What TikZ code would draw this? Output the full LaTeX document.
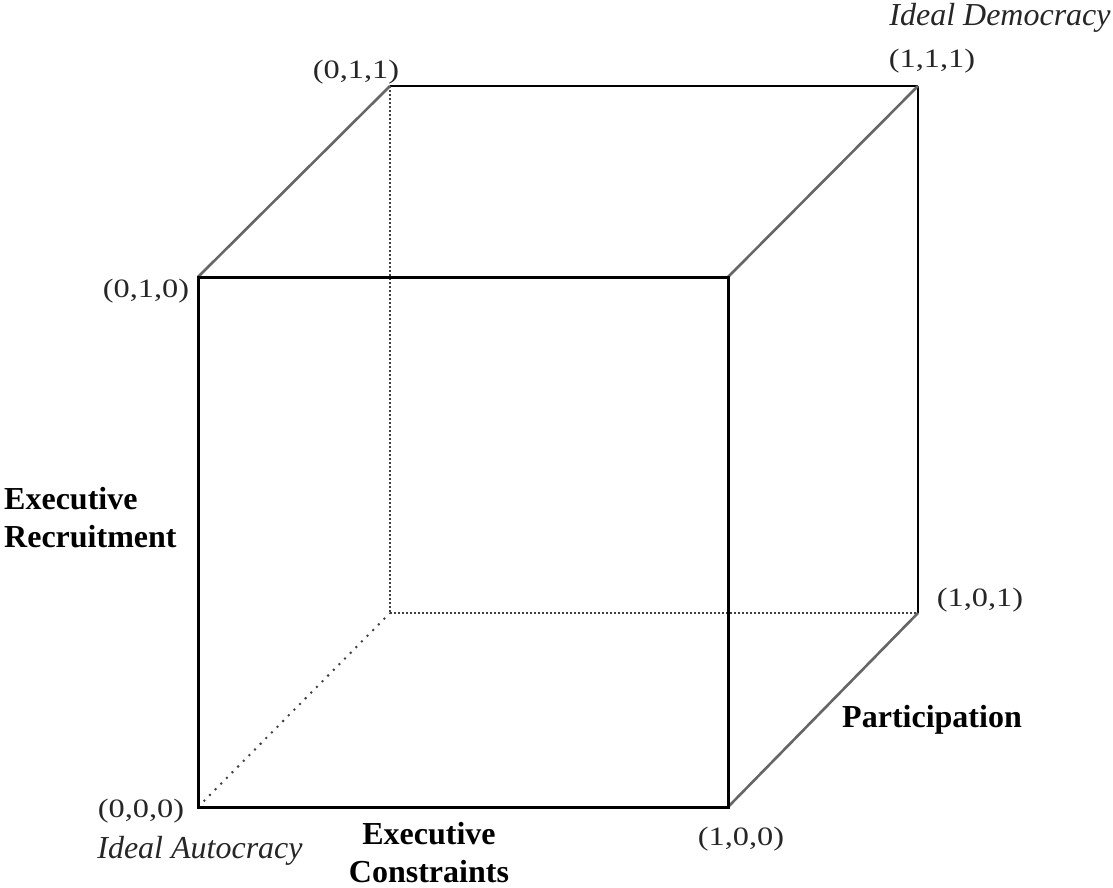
\documentclass[tikz,border=0pt]{standalone}
\usepackage{fontspec}
\setmainfont{Liberation Serif}
\newfontfamily\coordfont[FakeStretch=1.22]{Liberation Serif}
\begin{document}
\begin{tikzpicture}[x=1pt,y=-1pt,
  front/.style={line width=3pt,black},
  back/.style={line width=2.6pt,black},
  diag/.style={line width=2.6pt,black!60},
  hidden/.style={line width=2pt,black!75,dash pattern=on 2pt off 2pt},
  coordlbl/.style={inner sep=0pt,font=\coordfont\fontsize{26.5}{30}\selectfont,text=black!85},
  axislbl/.style={inner sep=0pt,font=\fontsize{32}{38}\selectfont\bfseries,text=black,align=center},
  ideallbl/.style={inner sep=0pt,font=\fontsize{32}{36}\selectfont\itshape,text=black!85}]
\useasboundingbox (0,0) rectangle (1113,888);
% cube corners
\coordinate (c000) at (198,807);
\coordinate (c100) at (728,807);
\coordinate (c010) at (198,277);
\coordinate (c110) at (728,277);
\coordinate (c001) at (390,613);
\coordinate (c101) at (918,613);
\coordinate (c011) at (390,86);
\coordinate (c111) at (918,86);
% hidden edges
\draw[hidden] (c011) -- (c001);
\draw[hidden] (c001) -- (c101);
\draw[hidden,dash pattern=on 2pt off 6pt] (c000) -- (c001);
% back edges
\draw[back] (c011) -- (c111);
\draw[back] (c111) -- (c101);
% diagonals
\draw[diag] (c010) -- (c011);
\draw[diag] (c110) -- (c111);
\draw[diag] (c100) -- (c101);
% front face
\draw[front,line join=miter] (c010) -- (c110) -- (c100) -- (c000) -- cycle;
% labels
\node[coordlbl] (l011) at (356,72) {(0,1,1)};
\node[coordlbl] (l111) at (932,61) {(1,1,1)};
\node[ideallbl] (ldem) at (1000,18) {Ideal Democracy};
\node[coordlbl] (l010) at (146,291) {(0,1,0)};
\node[axislbl,anchor=west,align=left] (lrec) at (4,518) {Executive\\Recruitment};
\node[coordlbl] (l101) at (980,600) {(1,0,1)};
\node[axislbl] (lpart) at (932,720) {Participation};
\node[coordlbl] (l000) at (141,811) {(0,0,0)};
\node[ideallbl] (laut) at (200,851) {Ideal Autocracy};
\node[axislbl] (lcon) at (429,853) {Executive\\Constraints};
\node[coordlbl] (l100) at (741,839) {(1,0,0)};
\end{tikzpicture}
\end{document}
